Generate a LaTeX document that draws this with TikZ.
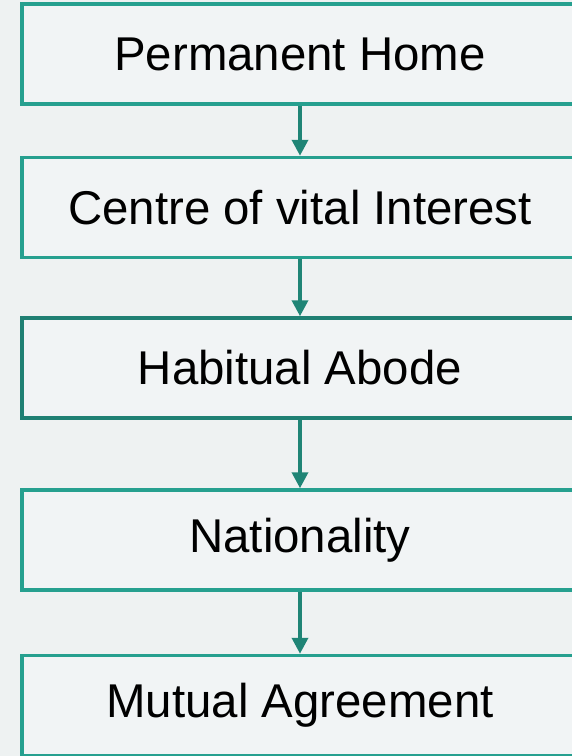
\documentclass[tikz,border=0pt]{standalone}
\usepackage{fontspec}
\setmainfont{Liberation Sans}
\usetikzlibrary{arrows.meta,positioning}
\definecolor{tealA}{HTML}{26A08F}
\definecolor{tealB}{HTML}{1F8073}
\definecolor{tealArr}{HTML}{1F8576}
\definecolor{bgGrey}{HTML}{EEF2F2}
\definecolor{boxGrey}{HTML}{F1F4F5}
\begin{document}
\begin{tikzpicture}[
  x=0.5pt, y=-0.5pt,
  >={Triangle[width=8pt,length=8pt]},
  panel/.style={draw=tealA, line width=1.75pt, fill=boxGrey, align=center, inner sep=0pt, minimum width=278pt, minimum height=50pt, font=\fontsize{23.7}{28}\selectfont},
  arr/.style={->, line width=1.8pt, draw=tealArr, fill=tealArr}
]
\fill[bgGrey] (0,0) rectangle (572,756);
\useasboundingbox (0,0) rectangle (572,756);
\node[panel] (home) at (300,54) {Permanent Home};
\node[panel] (vital) at (300,207.5) {Centre of vital Interest};
\node[panel, draw=tealB] (abode) at (300,368) {Habitual Abode};
\node[panel] (nat) at (300,540) {Nationality};
\node[panel] (mutual) at (300,705.5) {Mutual Agreement};
\draw[arr] (home.south) -- (vital.north);
\draw[arr] (vital.south) -- (abode.north);
\draw[arr] (abode.south) -- (nat.north);
\draw[arr] (nat.south) -- (mutual.north);
\end{tikzpicture}
\end{document}
